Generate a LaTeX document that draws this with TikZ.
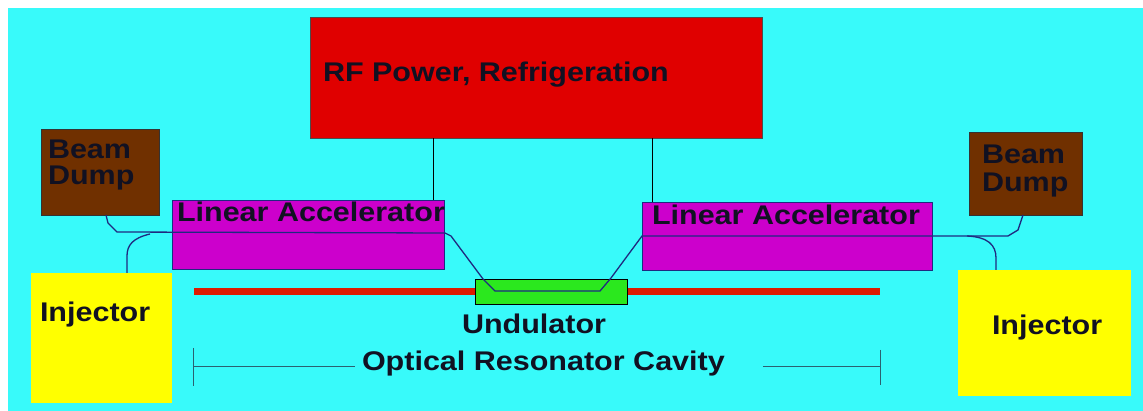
\documentclass[tikz,border=0pt]{standalone}
\usepackage{fontspec}
\setmainfont[FakeStretch=1.13]{Liberation Sans}
\usepackage{tikz}
\usetikzlibrary{positioning,calc}
\definecolor{Sky}{HTML}{38FAFA}
\definecolor{Rf}{HTML}{E00000}
\definecolor{Linac}{HTML}{CC00CC}
\definecolor{Dump}{HTML}{703000}
\definecolor{Inj}{HTML}{FFFF00}
\definecolor{Und}{HTML}{2BE81E}
\definecolor{Bar}{HTML}{DD1A00}
\definecolor{Beam}{HTML}{1F2A80}
\definecolor{Dim}{HTML}{2B6070}
\definecolor{Ink}{HTML}{111122}

\begin{document}
\begin{tikzpicture}[x=1pt,y=-1pt,font=\fontsize{27}{26}\selectfont\bfseries,
  every node/.style={inner sep=0pt,outer sep=0pt,text=Ink},
  block/.style={draw=#1,line width=0.8pt,anchor=north west},
  lbl/.style={anchor=base west},
  beam/.style={draw=Beam,line width=1.3pt,line join=round}]
  \useasboundingbox (0,0) rectangle (1143,411);
  \fill[white] (0,0) rectangle (1143,411);
  \fill[Sky] (8,8) rectangle (1143,411);
  % boxes
  \node[block=black!70,fill=Rf,minimum width=452,minimum height=121] (rf) at (310,17) {};
  \node[block=Beam,fill=Linac,minimum width=272,minimum height=69] (linl) at (172,200) {};
  \node[block=Beam,fill=Linac,minimum width=290,minimum height=68] (linr) at (642,202) {};
  \node[block=black!80,fill=Dump,minimum width=118,minimum height=86] (dumpl) at (41,129) {};
  \node[block=black!80,fill=Dump,minimum width=113,minimum height=83] (dumpr) at (969,132) {};
  \node[block=Inj,fill=Inj,minimum width=140,minimum height=129] (injl) at (31,273) {};
  \node[block=Inj,fill=Inj,minimum width=172,minimum height=125] (injr) at (958,270) {};
  \fill[Bar] (194,288) rectangle (880,295);
  \node[block=black,fill=Und,minimum width=152,minimum height=25] (und) at (475,279) {};
  % labels
  \node[lbl] (rft) at (323,82) {RF Power, Refrigeration};
  \node[lbl] (linlt) at (177,222) {Linear Accelerator};
  \node[lbl] (linrt) at (652,225) {Linear Accelerator};
  \node[lbl] (dlb) at (48,159) {Beam};
  \node[lbl] (dld) at (48,185) {Dump};
  \node[lbl] (drb) at (982,164) {Beam};
  \node[lbl] (drd) at (982,192) {Dump};
  \node[lbl] (injlt) at (40,322) {Injector};
  \node[lbl] (injrt) at (992,335) {Injector};
  \node[lbl] (undt) at (462,334) {Undulator};
  \node[lbl] (opt) at (362,371) {Optical Resonator Cavity};
  % rf feeds
  \draw[line width=0.9pt] ($(rf.south west)+(123,0)$) -- ($(linl.north west)+(261,0)$);
  \draw[line width=0.9pt] ($(rf.south west)+(342,0)$) -- ($(linr.north west)+(10,0)$);
  % electron beam
  \draw[beam] ($(dumpl.south west)+(65,0)$) -- (108,223) -- (117,232) -- (445,233) -- (451,236)
    -- (483,279) -- (495,291) -- (600,291) -- (611,278) -- (642,236) -- (1008,236) -- (1018,230)
    -- ($(dumpr.south west)+(54,0)$);
  \draw[beam] ($(injl.north west)+(96,0)$) -- (127,256) .. controls (127,245) and (133,238) .. (150,234);
  \draw[beam] ($(injr.north west)+(38,0)$) -- (996,258) .. controls (996,245) and (988,237) .. (967,236);
  % cavity length
  \coordinate (cl) at (193,366);
  \coordinate (cr) at (880,366);
  \draw[Dim,line width=0.9pt] (193,348) -- (193,386) (880,350) -- (880,385);
  \draw[Dim,line width=0.9pt] (cl) -- ([xshift=-7pt]cl -| opt.west);
  \draw[Dim,line width=0.9pt] ([xshift=38pt]cr -| opt.east) -- (cr);
\end{tikzpicture}
\end{document}
